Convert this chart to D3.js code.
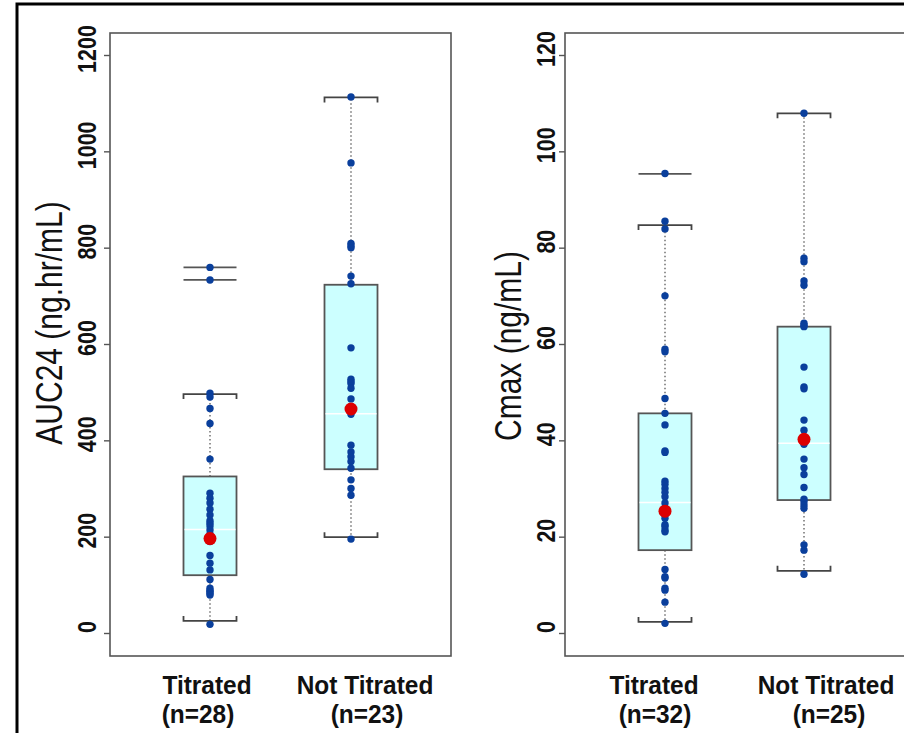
<!DOCTYPE html>
<html>
<head>
<meta charset="utf-8">
<script src="https://cdn.jsdelivr.net/npm/d3@7/dist/d3.min.js"></script>
<style>
  html, body { margin: 0; padding: 0; background: #fff; }
  svg { display: block; }
</style>
</head>
<body>
<script>
// ---------------- DATA ----------------
const categories = ["Titrated", "Not Titrated"];
const nAUC = [28, 23];
const nCmax = [32, 25];

const aucTicks = [0, 200, 400, 600, 800, 1000, 1200];
const cmaxTicks = [0, 20, 40, 60, 80, 100, 120];

const aucTitle = "AUC24 (ng.hr/mL)";
const cmaxTitle = "Cmax (ng/mL)";

// AUC24 box statistics per category
const aucLowerWhisker = [25, 199];
const aucQ1 = [120, 340];
const aucMedian = [215, 455];
const aucQ3 = [325, 723];
const aucUpperWhisker = [496, 1112];
const aucMean = [196, 465];
const aucOutlierLines = [[759, 733], []];

// AUC24 individual values
const aucTitrated = [759, 733, 498, 490, 466, 435, 361, 290, 280, 270, 257, 245, 233, 228, 222, 214,
  205, 190, 161, 145, 131, 111, 93, 88, 86, 82, 79, 18];
const aucNotTitrated = [1113, 976, 809, 804, 800, 741, 725, 592, 527, 522, 518, 508, 486, 454,
  390, 376, 366, 356, 342, 318, 300, 286, 195];

// Cmax box statistics per category
const cmaxLowerWhisker = [2.3, 12.9];
const cmaxQ1 = [17.2, 27.6];
const cmaxMedian = [27.1, 39.4];
const cmaxQ3 = [45.6, 63.6];
const cmaxUpperWhisker = [84.7, 107.9];
const cmaxMean = [25.3, 40.2];
const cmaxOutlierLines = [[95.3], []];

// Cmax individual values
const cmaxTitrated = [95.4, 85.5, 83.9, 70.0, 58.9, 58.4, 48.7, 45.6, 43.2, 37.8, 37.5, 31.5, 30.9,
  30.0, 29.2, 28.3, 27.0, 26.0, 25.0, 24.5, 23.8, 22.5, 22.1, 21.4, 21.0, 13.2, 11.7, 11.4, 9.3,
  8.9, 6.4, 2.0];
const cmaxNotTitrated = [107.9, 77.8, 77.1, 73.1, 72.2, 64.3, 63.9, 63.6, 55.2, 51.1, 50.7, 44.2,
  42.1, 39.2, 36.1, 34.3, 32.9, 30.2, 27.8, 27.3, 26.6, 25.9, 18.3, 17.2, 12.2];

// ---------------- LAYOUT / STYLE ----------------
const W = 904, H = 733;
const svg = d3.select("body").append("svg").attr("width", W).attr("height", H);

const FONT = "Arial, 'Liberation Sans', sans-serif";
const frameColor = "#555";
const dotColor = "#0a3f9c";
const meanColor = "#dd0000";
const boxFill = "#ccffff";
const XS = 1.2;      // horizontal stretch of rotated axis text
const CAT_XS = 0.94; // horizontal squeeze for narrow category labels

// outer frame
svg.append("rect").attr("x", 17).attr("y", 4).attr("width", 1000).attr("height", 1000)
  .attr("fill", "none").attr("stroke", "#000").attr("stroke-width", 3);

const yTop = 55, yZero = 633;

function panel(cfg) {
  const g = svg.append("g");
  const y = d3.scaleLinear().domain(cfg.domain).range([yZero, yTop]);
  const x = d3.scalePoint().domain(categories).range(cfg.centers);
  const halfW = 26.5;

  // plot frame
  g.append("rect").attr("x", cfg.left).attr("y", 33)
    .attr("width", cfg.right - cfg.left).attr("height", 656 - 33)
    .attr("fill", "none").attr("stroke", frameColor).attr("stroke-width", 1.6);

  // axis ticks via d3 axis
  const axis = d3.axisLeft(y).tickValues(cfg.ticks).tickSize(6).tickFormat("");
  const ag = g.append("g").attr("transform", `translate(${cfg.left},0)`).call(axis);
  ag.select(".domain").remove();
  ag.selectAll(".tick line").attr("stroke", frameColor).attr("stroke-width", 1.4);

  // tick labels (rotated)
  g.selectAll("text.tl").data(cfg.ticks).enter().append("text")
    .attr("class", "tl")
    .attr("transform", d => `translate(${cfg.labelX},${y(d) - 6}) scale(${XS},1) rotate(-90)`)
    .attr("text-anchor", "middle")
    .attr("font-family", FONT).attr("font-weight", "bold").attr("font-size", 21.5)
    .attr("fill", "#111")
    .text(d => d);

  // axis title
  g.append("text")
    .attr("transform", `translate(${cfg.titleX},${cfg.titleY}) scale(${XS},1) rotate(-90)`)
    .attr("text-anchor", "middle")
    .attr("font-family", FONT).attr("font-size", 30).attr("fill", "#111")
    .text(cfg.title);

  categories.forEach((c, i) => {
    const cx = x(c);
    const cg = g.append("g");
    const st = cfg.stats;
    // dotted whiskers
    [[st.q3[i], st.upper[i]], [st.q1[i], st.lower[i]]].forEach(([a, b]) => {
      cg.append("line").attr("x1", cx).attr("x2", cx).attr("y1", y(a)).attr("y2", y(b))
        .attr("stroke", "#666").attr("stroke-width", 1.4).attr("stroke-dasharray", "1.5,2.5");
    });
    // whisker caps (brackets)
    [[st.upper[i], 1], [st.lower[i], -1]].forEach(([v, dir]) => {
      const yy = y(v);
      cg.append("path")
        .attr("d", `M${cx - halfW},${yy + dir * 5}L${cx - halfW},${yy}L${cx + halfW},${yy}L${cx + halfW},${yy + dir * 5}`)
        .attr("fill", "none").attr("stroke", "#444").attr("stroke-width", 1.8);
    });
    // outlier lines
    st.outliers[i].forEach(v => {
      cg.append("line").attr("x1", cx - halfW).attr("x2", cx + halfW).attr("y1", y(v)).attr("y2", y(v))
        .attr("stroke", "#555").attr("stroke-width", 1.8);
    });
    // box
    cg.append("rect").attr("x", cx - halfW).attr("y", y(st.q3[i]))
      .attr("width", 2 * halfW).attr("height", y(st.q1[i]) - y(st.q3[i]))
      .attr("fill", boxFill).attr("stroke", "#555").attr("stroke-width", 1.8);
    // median line
    cg.append("line").attr("x1", cx - halfW + 1).attr("x2", cx + halfW - 1)
      .attr("y1", y(st.median[i])).attr("y2", y(st.median[i]))
      .attr("stroke", "#fff").attr("stroke-width", 1.5);
    // points
    cg.selectAll("circle.pt").data(cfg.points[i]).enter().append("circle")
      .attr("class", "pt").attr("cx", cx).attr("cy", d => y(d)).attr("r", 3.7)
      .attr("fill", dotColor);
    // mean
    cg.append("circle").attr("cx", cx).attr("cy", y(st.mean[i])).attr("r", 6.5).attr("fill", meanColor);

    // category labels
    g.append("text")
      .attr("transform", `translate(${cfg.catX[i]},694) scale(${CAT_XS},1)`)
      .attr("text-anchor", "middle").attr("font-family", FONT).attr("font-weight", "bold")
      .attr("font-size", 26).attr("fill", "#111").text(c);
    g.append("text")
      .attr("transform", `translate(${cfg.nX[i]},723) scale(${CAT_XS},1)`)
      .attr("text-anchor", "middle").attr("font-family", FONT).attr("font-weight", "bold")
      .attr("font-size", 26).attr("fill", "#111").text(`(n=${cfg.n[i]})`);
  });
}

panel({
  domain: [0, 1200], ticks: aucTicks, left: 110, right: 451, centers: [210, 351],
  labelX: 96, titleX: 62, titleY: 323, title: aucTitle, n: nAUC,
  catX: [207, 365], nX: [198, 367],
  stats: { lower: aucLowerWhisker, q1: aucQ1, median: aucMedian, q3: aucQ3, upper: aucUpperWhisker,
           mean: aucMean, outliers: aucOutlierLines },
  points: [aucTitrated, aucNotTitrated]
});

panel({
  domain: [0, 120], ticks: cmaxTicks, left: 565, right: 1000, centers: [665, 804],
  labelX: 555, titleX: 521, titleY: 346, title: cmaxTitle, n: nCmax,
  catX: [654, 826], nX: [655, 829],
  stats: { lower: cmaxLowerWhisker, q1: cmaxQ1, median: cmaxMedian, q3: cmaxQ3, upper: cmaxUpperWhisker,
           mean: cmaxMean, outliers: cmaxOutlierLines },
  points: [cmaxTitrated, cmaxNotTitrated]
});
</script>
</body>
</html>
